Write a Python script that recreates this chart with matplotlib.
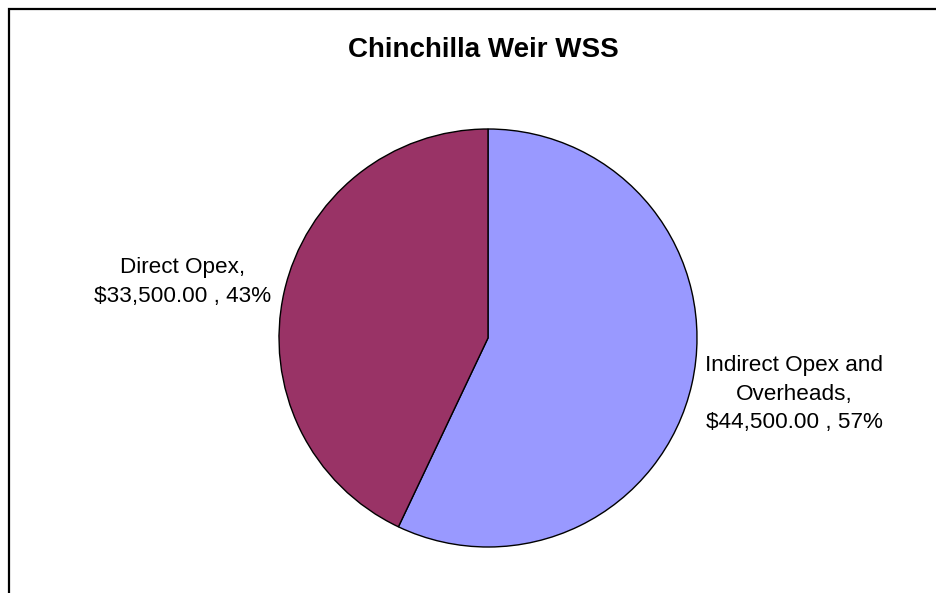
import numpy as np
import matplotlib
matplotlib.use("Agg")
import matplotlib.pyplot as plt
from matplotlib.patches import Rectangle

plt.rcParams['font.family'] = ['Liberation Sans', 'DejaVu Sans']

title = "Chinchilla Weir WSS"
categories = ["Indirect Opex and\nOverheads,", "Direct Opex,"]
values = [44500.00, 33500.00]
colors = ["#9999FF", "#993366"]

W, H, DPI = 936, 593, 100
fig = plt.figure(figsize=(W / DPI, H / DPI), dpi=DPI)
fig.patch.set_facecolor("white")

# chart-area border (top/left visible, runs off the right and bottom)
fig.patches.append(Rectangle((8.5 / W, -0.05), 1.2, (H - 8.5) / H + 0.05,
                             transform=fig.transFigure, fill=False,
                             edgecolor="#000000", linewidth=1.6))

# pie axes: centre (488, 338) px, radius 209 px
cx, cy, r = 488, 338, 209
ax = fig.add_axes([(cx - r) / W, (H - cy - r) / H, 2 * r / W, 2 * r / H])

wedges, _ = ax.pie(values, colors=colors, startangle=90, counterclock=False,
                   radius=1.0,
                   wedgeprops=dict(edgecolor="black", linewidth=1.0))
ax.set_xlim(-1, 1)
ax.set_ylim(-1, 1)
ax.axis("off")

total = sum(values)
for w, cat, v in zip(wedges, categories, values):
    mid = np.deg2rad((w.theta1 + w.theta2) / 2)
    pct = v / total * 100
    label = f"{cat}\n${v:,.2f} , {pct:.0f}%"
    side = 1 if np.cos(mid) > 0 else -1
    ax.text(side * 1.04, 1.22 * np.sin(mid), label,
            ha="left" if side > 0 else "right", va="center",
            multialignment="center", fontsize=16.2, color="black",
            linespacing=1.48, clip_on=False)

fig.text(483 / W, (H - 57) / H, title, ha="center", va="baseline",
         fontsize=20, fontweight="bold", color="black")

fig.savefig("out.png", dpi=DPI)
